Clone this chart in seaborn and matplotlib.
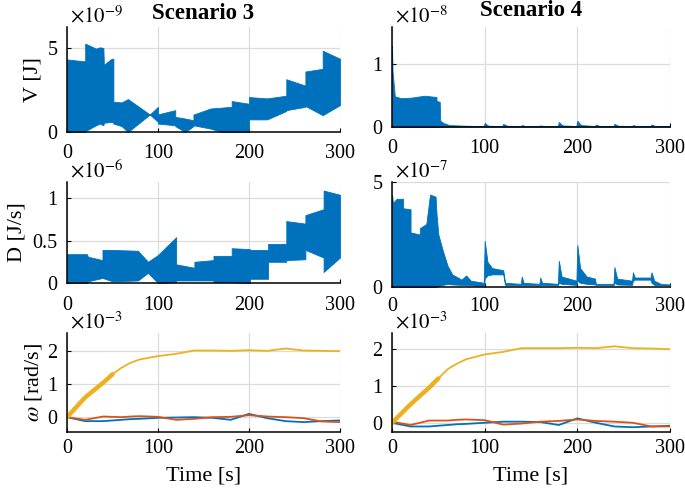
import numpy as np
import matplotlib
matplotlib.use("Agg")
import matplotlib.pyplot as plt
from matplotlib.ticker import FuncFormatter
import seaborn as sns

# MATLAB default line colours
BLUE = '#0072BD'
ORANGE = '#D95319'
YELLOW = '#EDB120'

# --- V, scenario 3 (x1e-9 J): envelope of the dense oscillation ---
v3_t = [0, 20, 20, 32, 36, 40, 40.5, 49, 51, 51, 60, 67, 91, 100, 100, 119, 119, 130, 139, 139,
        158, 170, 181, 181, 200, 200, 220, 241, 241, 262, 262, 281, 281, 300]
v3_hi = [4.32, 4.2, 5.26, 4.96, 5.04, 5.0, 4.0, 4.36, 4.36, 1.8, 1.76, 1.96, 1.04, 1.5, 1.05, 1.3, 0.9, 0.8, 0.7, 1.04,
         1.4, 1.45, 1.5, 1.84, 1.68, 2.08, 2.0, 2.16, 3.14, 2.76, 3.6, 3.76, 4.84, 4.36]
v3_lo = [0, 0, 0.05, 0.4, 0.5, 0.4, 0.55, 0.6, 0.55, 0.5, 0.35, 0.0, 1.04, 0.6, 0.5, 0.4, 0.35, 0.0, 0.35, 0.4,
         0.2, 0.0, 0.0, 0.0, 0.0, 0.75, 0.75, 1.25, 1.3, 1.5, 1.55, 1.0, 1.0, 1.6]

# --- V, scenario 4 (x1e-8 J) ---
v4_t = [0, 0.5, 3, 10, 21, 35, 48, 48, 51.5, 52, 56, 62, 80, 99, 100, 104, 119, 120, 124, 139, 140, 144,
        159, 160, 164, 179, 180, 184, 199, 200, 204, 219, 220, 224, 239, 240, 244, 259, 260, 264, 279, 280, 284, 300]
v4_hi = [1.3, 0.9, 0.49, 0.46, 0.47, 0.5, 0.48, 0.42, 0.4, 0.1, 0.06, 0.03, 0.02, 0.015, 0.06, 0.02, 0.015, 0.05,
         0.02, 0.015, 0.03, 0.015, 0.015, 0.025, 0.015, 0.015, 0.08, 0.025, 0.015, 0.1, 0.03, 0.015, 0.04, 0.015,
         0.015, 0.05, 0.02, 0.015, 0.03, 0.015, 0.015, 0.04, 0.015, 0.015]
v4_lo = [0, 0, 0, 0, 0, 0, 0, 0, 0, 0, 0.005, 0.005, 0.005, 0.005, 0.005, 0.005, 0.005, 0.005, 0.005, 0.005,
         0.005, 0.005, 0.005, 0.005, 0.005, 0.005, 0.005, 0.005, 0.005, 0.005, 0.005, 0.005, 0.005, 0.005,
         0.005, 0.005, 0.005, 0.005, 0.005, 0.005, 0.005, 0.005, 0.005, 0.005]

# --- D, scenario 3 (x1e-6 J/s) ---
d3_t = [0, 22, 23, 39, 39, 50, 78, 89, 100, 120, 120, 140, 140, 161, 161, 181, 181, 201, 201, 221,
        221, 241, 241, 262, 262, 282, 282, 300]
d3_hi = [0.34, 0.34, 0.31, 0.27, 0.39, 0.39, 0.38, 0.25, 0.33, 0.54, 0.22, 0.18, 0.25, 0.27, 0.32, 0.32,
         0.41, 0.40, 0.39, 0.39, 0.46, 0.46, 0.73, 0.70, 0.80, 0.87, 1.09, 1.04]
d3_lo = [0, 0.0, 0.02, 0.06, 0.06, 0.02, 0.03, 0.12, 0.0, 0.01, 0.03, 0.03, 0.03, 0.03, 0.01, 0.01,
         0.01, 0.0, 0.05, 0.05, 0.25, 0.25, 0.27, 0.28, 0.39, 0.3, 0.13, 0.3]

# --- D, scenario 4 (x1e-7 J/s) ---
d4_t = [0, 1, 5, 12, 12, 20, 20, 30, 30, 37, 41, 47, 48, 50, 55, 60, 65, 75, 80, 85, 99, 100, 103, 108,
        120, 122, 139, 140, 142, 159, 160, 162, 179, 180, 183, 199, 200, 203, 210, 219, 220, 239, 240,
        243, 259, 260, 262, 279, 280, 283, 290, 300]
d4_hi = [4.4, 4.0, 4.2, 4.2, 3.75, 3.7, 2.6, 2.5, 2.8, 3.0, 4.4, 4.3, 3.5, 2.5, 1.7, 1.0, 0.6, 0.35, 0.55,
         0.3, 0.2, 2.2, 1.2, 0.9, 0.8, 0.2, 0.15, 0.5, 0.2, 0.15, 0.45, 0.2, 0.15, 1.25, 0.5, 0.3, 2.0,
         0.9, 0.5, 0.4, 0.15, 0.15, 0.95, 0.4, 0.3, 0.7, 0.45, 0.45, 0.7, 0.3, 0.15, 0.12]
d4_lo = [0, 0, 0, 0, 0, 0, 0, 0, 0, 0, 0, 0, 0, 0.05, 0.1, 0.15, 0.12, 0.1, 0.1, 0.08, 0.05, 0.4, 0.55,
         0.6, 0.6, 0.1, 0.08, 0.1, 0.1, 0.08, 0.1, 0.1, 0.08, 0.2, 0.15, 0.1, 0.3, 0.2, 0.15, 0.12, 0.1,
         0.08, 0.2, 0.12, 0.1, 0.3, 0.35, 0.35, 0.2, 0.1, 0.08, 0.08]

# --- omega (x1e-3 rad/s), three components ---
w_t = [0, 20, 40, 50, 60, 70, 80, 100, 120, 140, 160, 180, 200, 220, 240, 260, 280, 300]
w3_yellow = [0, 0.6, 1.05, 1.3, 1.5, 1.65, 1.75, 1.85, 1.92, 2.02, 2.02, 2.01, 2.03, 2.01, 2.08, 2.02, 2.01, 2.0]
w3_blue = [0, -0.12, -0.12, -0.1, -0.08, -0.06, -0.05, -0.02, -0.01, 0.0, -0.02, -0.08, 0.1, -0.03, -0.12,
           -0.15, -0.12, -0.1]
w3_red = [0, -0.08, 0.02, 0.01, 0.0, 0.02, 0.03, 0.01, -0.08, -0.05, 0.0, 0.01, 0.06, 0.02, 0.0, -0.03,
          -0.13, -0.15]
w4_yellow = [0, 0.5, 0.95, 1.2, 1.45, 1.6, 1.72, 1.85, 1.92, 2.02, 2.02, 2.02, 2.03, 2.02, 2.07, 2.02, 2.01, 1.99]
w4_blue = [0, -0.1, -0.1, -0.08, -0.06, -0.04, -0.03, 0.0, 0.03, 0.03, 0.02, -0.06, 0.12, 0.0, -0.1, -0.12,
           -0.1, -0.08]
w4_red = [0.03, -0.06, 0.06, 0.06, 0.06, 0.08, 0.09, 0.07, -0.05, -0.02, 0.03, 0.05, 0.09, 0.05, 0.03, 0.0,
          -0.1, -0.1]

x_ticks = [0, 100, 200, 300]

sns.set_theme(style="whitegrid")
plt.rcParams['font.family'] = ['Liberation Serif', 'DejaVu Serif']
plt.rcParams['mathtext.fontset'] = 'stix'
plt.rcParams['text.color'] = 'black'
plt.rcParams['axes.labelcolor'] = 'black'

TICK_FS = 14.5
LABEL_FS = 16

fig = plt.figure(figsize=(6.85, 4.96), dpi=100)
fig.patch.set_facecolor('white')


def style_axes(ax, ylim, yticks, exponent, ylabel=None, label_x=-0.09, xpad=9):
    ax.set_facecolor('white')
    ax.set_xlim(0, 300)
    ax.set_ylim(*ylim)
    ax.set_xticks(x_ticks)
    ax.set_yticks(yticks)
    ax.yaxis.set_major_formatter(FuncFormatter(lambda v, p: f'{v:g}'))
    ax.grid(True, color='#dcdcdc', linewidth=0.9)
    ax.set_axisbelow(True)
    for side in ['top', 'right']:
        ax.spines[side].set_visible(False)
    for side in ['left', 'bottom']:
        ax.spines[side].set_visible(True)
        ax.spines[side].set_color('black')
        ax.spines[side].set_linewidth(1.1)
    ax.tick_params(axis='both', direction='in', length=3, width=0.8, colors='black',
                   labelsize=TICK_FS, left=True, bottom=True)
    ax.tick_params(axis='x', pad=xpad)
    ax.tick_params(axis='y', pad=7)
    ax.text(0.01, 1.0, r'$\times10^{%d}$' % exponent, transform=ax.transAxes,
            ha='left', va='bottom', fontsize=15, color='black')
    ax.set_xlabel('')
    if ylabel:
        ax.set_ylabel(ylabel, fontsize=LABEL_FS, color='black')
        ax.yaxis.set_label_coords(label_x, 0.5)
    else:
        ax.set_ylabel('')


def band(ax, t, lo, hi):
    ax.fill_between(t, lo, hi, color=BLUE, edgecolor=BLUE, linewidth=0.6)


# row 1: V
ax = fig.add_axes([0.0978, 0.7339, 0.3985, 0.2117])
band(ax, v3_t, v3_lo, v3_hi)
style_axes(ax, (0, 6.25), [0, 5], -9, 'V [J]')
ax.set_title('Scenario 3', fontsize=16.5, fontweight='bold', pad=6, color='black')

ax = fig.add_axes([0.5723, 0.744, 0.4058, 0.2016])
band(ax, v4_t, v4_lo, v4_hi)
style_axes(ax, (0, 1.6), [0, 1], -8)
ax.set_title('Scenario 4', fontsize=16.5, fontweight='bold', pad=8, color='black')

# row 2: D
ax = fig.add_axes([0.0978, 0.4294, 0.3985, 0.2036])
band(ax, d3_t, d3_lo, d3_hi)
style_axes(ax, (0, 1.19), [0, 0.5, 1], -6, 'D [J/s]', label_x=-0.15)

ax = fig.add_axes([0.5723, 0.4214, 0.4058, 0.2117])
band(ax, d4_t, d4_lo, d4_hi)
style_axes(ax, (0, 5), [0, 5], -7, xpad=7)

# row 3: omega
for left, width, ylim, yel, blu, red, lab in [
        (0.0978, 0.3985, (-0.45, 2.55), w3_yellow, w3_blue, w3_red, r'$\omega$ [rad/s]'),
        (0.5723, 0.4058, (-0.25, 2.43), w4_yellow, w4_blue, w4_red, None)]:
    ax = fig.add_axes([left, 0.129, width, 0.1996])
    sns.lineplot(x=w_t, y=blu, ax=ax, color=BLUE, linewidth=1.3)
    sns.lineplot(x=w_t, y=red, ax=ax, color=ORANGE, linewidth=1.3)
    sns.lineplot(x=w_t, y=yel, ax=ax, color=YELLOW, linewidth=1.3)
    # thicker early part where the yellow trace oscillates
    sns.lineplot(x=w_t[:4], y=yel[:4], ax=ax, color=YELLOW, linewidth=3.2)
    style_axes(ax, ylim, [0, 1, 2], -3, lab, label_x=-0.085, xpad=5)
    ax.set_xlabel('Time [s]', fontsize=LABEL_FS, labelpad=6, color='black')

fig.savefig('out.png', dpi=100, facecolor='white')
